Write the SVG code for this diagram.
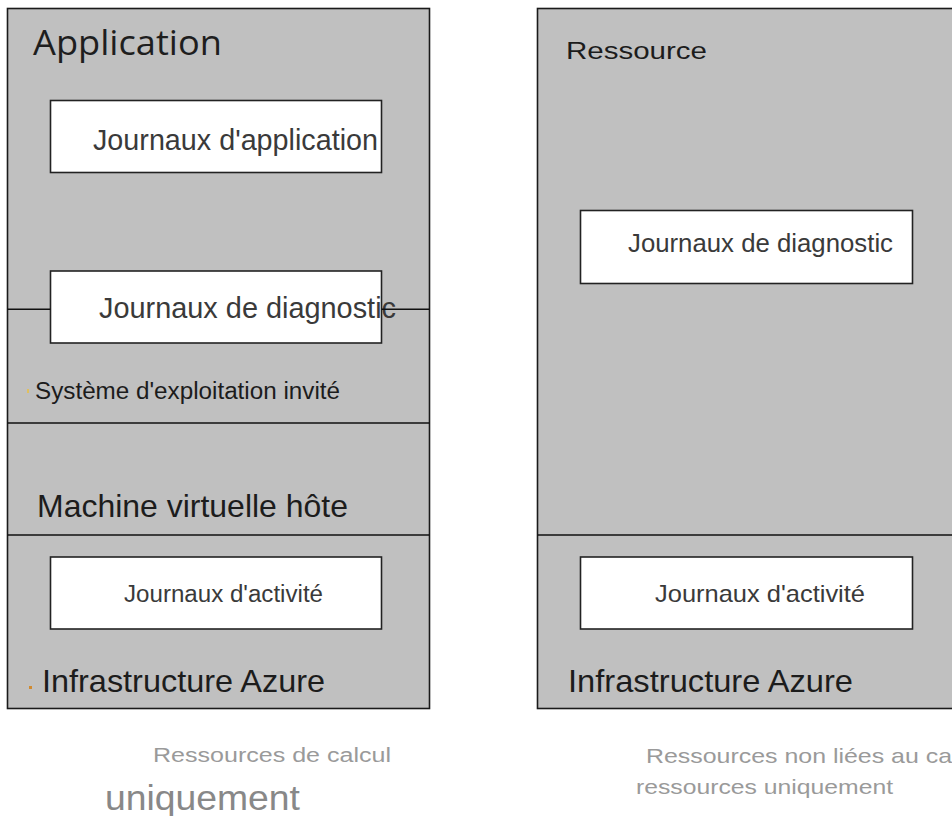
<svg xmlns="http://www.w3.org/2000/svg" width="952" height="816" viewBox="0 0 952 816">
  <style>
    .panel { fill: #c0c0c0; stroke: #1a1a1a; stroke-width: 1.6; }
    .box { fill: #ffffff; stroke: #222222; stroke-width: 1.6; }
    .sep { stroke: #111111; stroke-width: 1.6; fill: none; }
    .t { font-family: "Liberation Sans", Arial, sans-serif; fill: #1c1c1c; }
    .log { fill: #3a3a3a; }
    .cap { fill: #9a9a9a; }
    .cap-big { fill: #888888; }
    .title { font-family: "Open Sans", "Noto Sans", sans-serif; fill: #1e1e1e; }
  </style>
  <rect width="952" height="816" fill="#ffffff"/>

  <!-- compute resources stack -->
  <g id="compute-panel">
    <rect class="panel" x="7.5" y="8.5" width="422" height="700"/>
    <text class="title" x="33" y="55" font-size="35" textLength="189" lengthAdjust="spacingAndGlyphs">Application</text>
  </g>

  <!-- non-compute resources stack (runs past the right edge) -->
  <g id="resource-panel">
    <rect class="panel" x="537.5" y="8.5" width="430" height="700"/>
    <text class="t" x="566" y="58.5" font-size="23" textLength="141" lengthAdjust="spacingAndGlyphs">Ressource</text>
  </g>

  <!-- layer separators -->
  <g id="connectors">
    <line class="sep" x1="7.5" y1="423" x2="429.5" y2="423"/>
    <line class="sep" x1="7.5" y1="535" x2="429.5" y2="535"/>
    <line class="sep" x1="537.5" y1="535" x2="952" y2="535"/>
  </g>

  <g id="app-logs">
    <rect class="box" x="50.5" y="100.5" width="331" height="72"/>
    <text class="t log" x="93" y="150" font-size="29" textLength="285" lengthAdjust="spacingAndGlyphs">Journaux d'application</text>
  </g>

  <g id="diag-logs-compute">
    <rect class="box" x="50.5" y="271" width="331" height="72"/>
    <text class="t log" x="99" y="318" font-size="29" textLength="297" lengthAdjust="spacingAndGlyphs">Journaux de diagnostic</text>
    <line class="sep" x1="7.5" y1="309.3" x2="50.5" y2="309.3"/>
    <line class="sep" x1="381.5" y1="309.3" x2="429.5" y2="309.3"/>
  </g>

  <g id="guest-os">
    <rect x="27" y="389" width="2" height="4" fill="#e0c060"/>
    <text class="t" x="35" y="399" font-size="23" textLength="305" lengthAdjust="spacingAndGlyphs">Système d'exploitation invité</text>
  </g>

  <g id="host-vm">
    <text class="t" x="37" y="517" font-size="32" textLength="311" lengthAdjust="spacingAndGlyphs">Machine virtuelle hôte</text>
  </g>

  <g id="activity-logs-compute">
    <rect class="box" x="50.5" y="557" width="331" height="72"/>
    <text class="t log" x="124" y="602" font-size="23.5" textLength="199" lengthAdjust="spacingAndGlyphs">Journaux d'activité</text>
  </g>

  <g id="azure-infra-compute">
    <rect x="29" y="686" width="3" height="3" fill="#d08a30"/>
    <text class="t" x="42" y="692" font-size="32" textLength="283" lengthAdjust="spacingAndGlyphs">Infrastructure Azure</text>
  </g>

  <g id="diag-logs-resource">
    <rect class="box" x="580.5" y="210.5" width="332" height="73"/>
    <text class="t log" x="628" y="252" font-size="25.5" textLength="265" lengthAdjust="spacingAndGlyphs">Journaux de diagnostic</text>
  </g>

  <g id="activity-logs-resource">
    <rect class="box" x="580.5" y="557" width="332" height="72"/>
    <text class="t log" x="655" y="602" font-size="24" textLength="210" lengthAdjust="spacingAndGlyphs">Journaux d'activité</text>
  </g>

  <g id="azure-infra-resource">
    <text class="t" x="568" y="692" font-size="32" textLength="285" lengthAdjust="spacingAndGlyphs">Infrastructure Azure</text>
  </g>

  <!-- captions -->
  <g id="caption-compute">
    <text class="t cap" x="153" y="762" font-size="20" textLength="238" lengthAdjust="spacingAndGlyphs">Ressources de calcul</text>
    <text class="t cap-big" x="105" y="810" font-size="35" textLength="195" lengthAdjust="spacingAndGlyphs">uniquement</text>
  </g>

  <g id="caption-resource">
    <text class="t cap" x="646" y="763" font-size="21" textLength="306" lengthAdjust="spacingAndGlyphs">Ressources non liées au ca</text>
    <text class="t cap" x="636" y="794" font-size="20" textLength="257" lengthAdjust="spacingAndGlyphs">ressources uniquement</text>
  </g>
</svg>
